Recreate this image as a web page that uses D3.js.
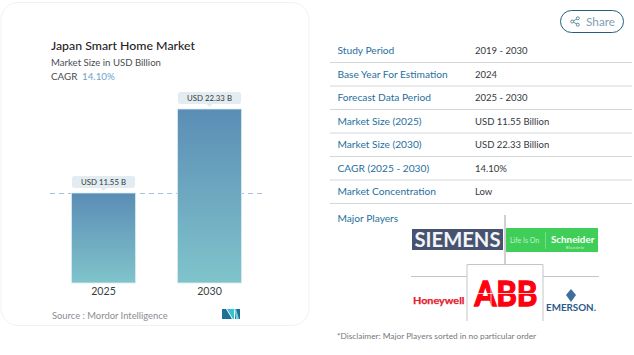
<!DOCTYPE html>
<html>
<head>
<meta charset="utf-8">
<script src="https://cdn.jsdelivr.net/npm/d3@7"></script>
<style>
  html, body { margin:0; padding:0; background:#fff; }
  svg { display:block; }
  text { font-family:Lato, "Open Sans", sans-serif; }
</style>
</head>
<body>
<div id="chart"></div>
<script>
// chart values
const years = ['2025','2030'];
const marketSize = [11.55,22.33];
const barLabels = ['USD 11.55 B','USD 22.33 B'];
// side table
const rowNames = ['Study Period','Base Year For Estimation','Forecast Data Period','Market Size (2025)','Market Size (2030)','CAGR (2025 - 2030)','Market Concentration'];
const rowValues = ['2019 - 2030','2024','2025 - 2030','USD 11.55 Billion','USD 22.33 Billion','14.10%','Low'];

const svg = d3.select('#chart').append('svg').attr('width',634).attr('height',355);

// gradient for the bars
const grad = svg.append('defs').append('linearGradient').attr('id','barFill').attr('x1',0).attr('y1',0).attr('x2',0).attr('y2',1);
grad.append('stop').attr('offset','0%').attr('stop-color','#5b8db5');
grad.append('stop').attr('offset','100%').attr('stop-color','#80c4cb');

// card
svg.append('rect').attr('x',1).attr('y',2.5).attr('width',308).attr('height',323).attr('rx',17)
  .attr('fill','#fff').attr('stroke','#f1f2f3').attr('stroke-width',1);

svg.append('text').attr('x',51).attr('y',50).attr('font-size',12.3).attr('font-weight',500).attr('fill','#1f2226').text('Japan Smart Home Market');
svg.append('text').attr('x',51).attr('y',66).attr('font-size',9.6).attr('fill','#4a4e52').text('Market Size in USD Billion');
const cagr = svg.append('text').attr('x',51).attr('y',80).attr('font-size',9.8).attr('fill','#4a4e52').text('CAGR');
cagr.append('tspan').attr('x',82).attr('fill','#6fa3cb').text('14.10%');

// scales
const x = d3.scaleBand().domain(years).range([71.5,241.5]).paddingInner(0.396);
const y = d3.scaleLinear().domain([0,d3.max(marketSize)]).range([283,109]);

// dashed reference at the 2025 value
svg.append('line').attr('x1',50).attr('x2',264).attr('y1',y(marketSize[0])+0.5).attr('y2',y(marketSize[0])+0.5)
  .attr('stroke','#a9c3dc').attr('stroke-width',1).attr('stroke-dasharray','5 4');

// bars
svg.append('g').selectAll('rect').data(years).join('rect')
  .attr('x',d => x(d))
  .attr('y',(d,i) => y(marketSize[i]))
  .attr('width',x.bandwidth())
  .attr('height',(d,i) => y(0) - y(marketSize[i]))
  .attr('fill','url(#barFill)')
  .attr('stroke','#d8edf2').attr('stroke-width',0.8);

// value pills
const pills = svg.append('g').selectAll('g').data(years).join('g')
  .attr('transform',(d,i) => `translate(${x(d)+x.bandwidth()/2},${y(marketSize[i])})`);
pills.append('rect').attr('x',-31.5).attr('y',-17).attr('width',63).attr('height',12).attr('rx',2.5).attr('fill','#e3edf1');
pills.append('path').attr('d','M-3,-5L0,-2L3,-5Z').attr('fill','#e3edf1');
pills.append('text').attr('y',-7.8).attr('text-anchor','middle').attr('font-size',7.8).attr('fill','#30353a')
  .text((d,i) => barLabels[i]);

// x axis labels
const xAxis = d3.axisBottom(x).tickSize(0).tickPadding(0);
const axisG = svg.append('g').attr('transform','translate(0,283)').call(xAxis);
axisG.select('.domain').remove();
axisG.selectAll('text').attr('y',4).attr('font-family','Lato').attr('font-size',10.6).attr('fill','#3a3e42');

// source line
svg.append('text').attr('x',52).attr('y',319).attr('font-size',9.4).attr('fill','#8a8e92').text('Source :  Mordor Intelligence');

// mordor logo
const logo = svg.append('g').attr('transform','translate(222,309)');
logo.append('path').attr('d','M0,0L4,0L10,10L0,10Z').attr('fill','#1f6f96');
logo.append('path').attr('d','M5,0L12,0L12,10L11,10Z').attr('fill','#35c3cf');
logo.append('path').attr('d','M13,0L18,0L18,10L13,10Z').attr('fill','#1f6f96');
logo.append('path').attr('d','M12.5,0L14,0L17,10L14,10Z').attr('fill','#6fd3da');

// share button
svg.append('rect').attr('x',560.5).attr('y',10.5).attr('width',63).attr('height',22).attr('rx',11)
  .attr('fill','#fff').attr('stroke','#23607f').attr('stroke-width',1);
const ic = svg.append('g').attr('transform','translate(575,21.5)').attr('fill','none').attr('stroke','#4f7f98').attr('stroke-width',0.9);
ic.append('path').attr('d','M-2.6,0L2.6,-3M-2.6,0L2.6,3');
ic.selectAll('circle').data([[-2.8,0],[2.8,-3.2],[2.8,3.2]]).join('circle')
  .attr('cx',d => d[0]).attr('cy',d => d[1]).attr('r',1.5).attr('fill','#fff');
svg.append('text').attr('x',586).attr('y',25.5).attr('font-size',11.8).attr('fill','#7fa0b2').text('Share');

// table
const rowY = d3.scalePoint().domain(rowNames).range([54,195]);
const rows = svg.append('g').selectAll('g').data(rowNames).join('g').attr('transform',d => `translate(0,${rowY(d)})`);
rows.append('text').attr('x',337.5).attr('font-size',10.2).attr('fill','#1f6f9e').text(d => d);
rows.append('text').attr('x',475).attr('font-size',9.5).attr('fill','#34383c').text((d,i) => rowValues[i]);
rows.append('line').attr('x1',330).attr('x2',632).attr('y1',8.5).attr('y2',8.5).attr('stroke','#d4d6d8').attr('stroke-width',1);

svg.append('text').attr('x',337.5).attr('y',222).attr('font-size',10.2).attr('fill','#1f6f9e').text('Major Players');

// players grid
const grid = svg.append('g').attr('fill','none').attr('stroke','#c3c5c7');
grid.append('line').attr('x1',505).attr('x2',505).attr('y1',215).attr('y2',264).attr('stroke-width',1.6);
grid.append('line').attr('x1',411).attr('x2',467).attr('y1',276.5).attr('y2',276.5);
grid.append('line').attr('x1',543).attr('x2',599).attr('y1',276.5).attr('y2',276.5);
grid.append('path').attr('d','M467,321V264.5H543V321');

// logos drawn as text
svg.append('rect').attr('x',412).attr('y',229).attr('width',91).attr('height',21).attr('fill','#46526f');
svg.append('text').attr('x',414.5).attr('y',246.5).attr('font-family','Liberation Sans').attr('font-weight',700).attr('font-size',20.5).attr('textLength',86).attr('lengthAdjust','spacingAndGlyphs').attr('fill','#f2f4f7').text('SIEMENS');
svg.append('rect').attr('x',506).attr('y',228).attr('width',92).attr('height',24).attr('fill','#3fcf58');
svg.append('text').attr('x',510).attr('y',243).attr('font-size',7).attr('fill','#c3f0cc').text('Life Is On');
svg.append('line').attr('x1',545.5).attr('x2',545.5).attr('y1',232).attr('y2',249).attr('stroke','#9be8aa').attr('stroke-width',0.6);
svg.append('text').attr('x',551).attr('y',243).attr('font-size',9.8).attr('font-weight',700).attr('fill','#fff').text('Schneider');
svg.append('text').attr('x',566).attr('y',249).attr('font-size',4.5).attr('letter-spacing',0.5).attr('fill','#e4f9e8').text('Electric');
svg.append('text').attr('x',413).attr('y',304).attr('font-family','Liberation Sans').attr('font-weight',700).attr('font-size',10).attr('textLength',51.5).attr('lengthAdjust','spacingAndGlyphs').attr('fill','#e4202c').attr('stroke','#e4202c').attr('stroke-width',0.25).text('Honeywell');
svg.append('text').attr('x',474.5).attr('y',306).attr('font-family','Liberation Sans').attr('font-weight',700).attr('font-size',35).attr('textLength',63).attr('lengthAdjust','spacingAndGlyphs').attr('fill','#ff000f').attr('stroke','#ff000f').attr('stroke-width',1.4).text('ABB');
svg.append('line').attr('x1',472).attr('x2',540).attr('y1',293.5).attr('y2',293.5).attr('stroke','#fff').attr('stroke-width',0.8);
svg.append('line').attr('x1',491).attr('x2',491).attr('y1',280).attr('y2',307).attr('stroke','#fff').attr('stroke-width',0.7);
svg.append('path').attr('d','M571,289L576,295L571,302L566,295Z').attr('fill','#3d6f9e');
svg.append('text').attr('x',546).attr('y',311).attr('font-family','Liberation Sans').attr('font-weight',700).attr('font-size',8.6).attr('textLength',50).attr('lengthAdjust','spacingAndGlyphs').attr('fill','#2a5a8c').text('EMERSON.');

// disclaimer
svg.append('text').attr('x',337).attr('y',339).attr('font-size',8.3).attr('fill','#74787c').text('*Disclaimer: Major Players sorted in no particular order');
</script>
</body>
</html>
